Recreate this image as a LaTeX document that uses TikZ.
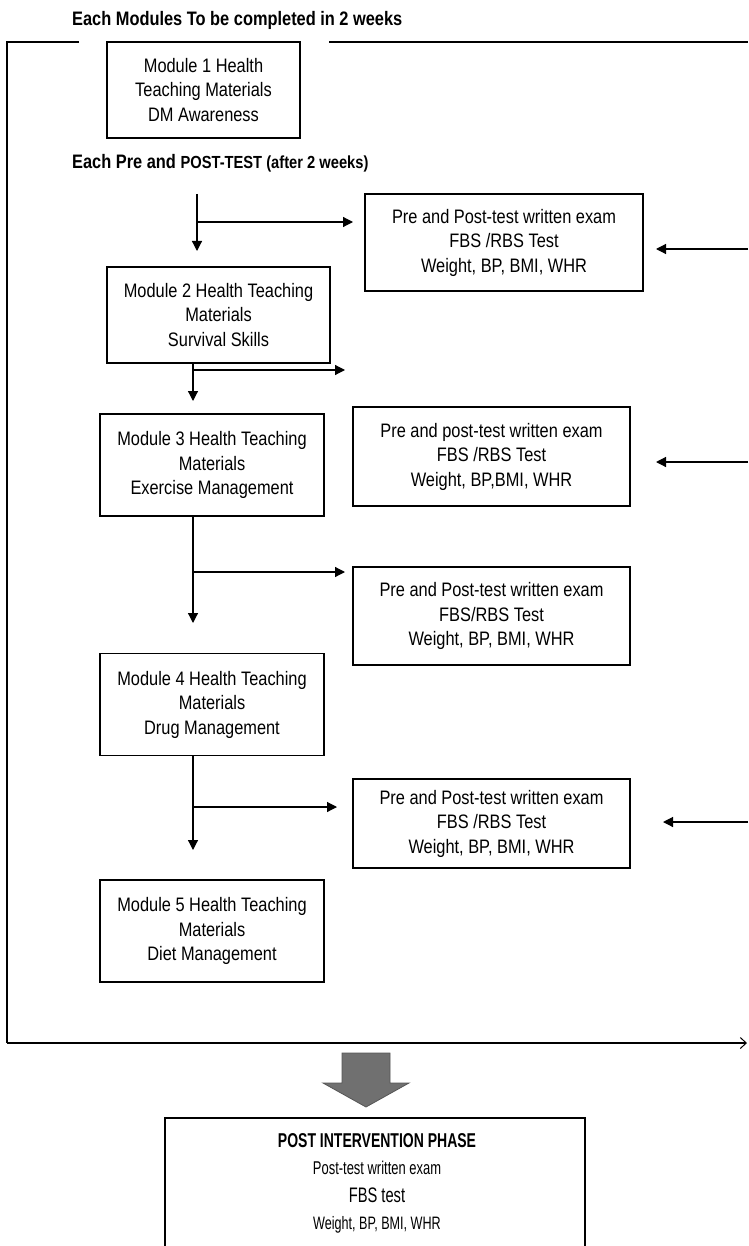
\documentclass[tikz,border=0pt]{standalone}
\usepackage{fontspec}
\setmainfont[FakeStretch=0.84]{Liberation Sans}
\newfontfamily\postfont[FakeStretch=0.70]{Liberation Sans}
\usetikzlibrary{arrows.meta}
\begin{document}
\begin{tikzpicture}[x=1pt,y=-1pt]
\tikzset{
  ln/.style={line width=1.2pt},
  arr/.style={line width=1.2pt,-{Triangle[length=10pt,width=10pt]}},
  box/.style={draw,line width=1.2pt,inner sep=0pt,align=center,font=\fontsize{19.5}{24.5}\selectfont},
  modbox/.style={box,minimum width=224pt,minimum height=102pt},
  testbox/.style={box,minimum width=277pt,minimum height=98pt},
  hdr/.style={inner sep=0pt,anchor=base west,font=\fontsize{19.5}{24}\selectfont\bfseries},
  ptxt/.style={inner sep=0pt,anchor=base}
}
\useasboundingbox (0,0) rectangle (748,1246);
\clip (0,0) rectangle (748,1246);

% headings
\node[hdr] (title) at (72,26) {Each Modules To be completed in 2 weeks};
\node[hdr] (sub) at (72,169) {Each Pre and {\fontsize{17.5}{24}\selectfont POST-TEST (after 2 weeks)}};

% module boxes
\node[box,minimum width=193pt,minimum height=96pt] (m1) at (203.5,90) {Module 1 Health\\Teaching Materials\\DM Awareness};
\node[box,minimum width=223pt,minimum height=96pt] (m2) at (218.5,315) {Module 2 Health Teaching\\Materials\\Survival Skills};
\node[modbox] (m3) at (212,465) {Module 3 Health Teaching\\Materials\\Exercise Management};
\node[modbox] (m4) at (212,704.5) {Module 4 Health Teaching\\Materials\\Drug Management};
\node[modbox] (m5) at (212,931) {Module 5 Health Teaching\\Materials\\Diet Management};

% test boxes
\node[testbox,minimum width=278pt,minimum height=97pt] (t1) at (504,242.5) {Pre and Post-test written exam\\FBS /RBS Test\\Weight, BP, BMI, WHR};
\node[testbox,minimum height=99pt] (t2) at (491.5,456.5) {Pre and post-test written exam\\FBS /RBS Test\\Weight, BP,BMI, WHR};
\node[testbox] (t3) at (491.5,616) {Pre and Post-test written exam\\FBS/RBS Test\\Weight, BP, BMI, WHR};
\node[testbox,minimum height=89pt] (t4) at (491.5,823.5) {Pre and Post-test written exam\\FBS /RBS Test\\Weight, BP, BMI, WHR};

% frame
\coordinate (fa) at (79,42);
\coordinate (fb) at (7,42);
\coordinate (fc) at (7,1043);
\coordinate (fd) at (747,1043);
\coordinate (fe) at (329,42);
\coordinate (ff) at (748,42);
\draw[ln] (fa) -- (fb) -- (fc);
\draw[ln,-{Straight Barb[length=6pt,width=11pt,line width=1pt]}] (fc) -- (fd);
\draw[ln] (fe) -- (ff);

% flow arrows
\coordinate (s1) at (197,194);
\coordinate (b1) at (197,222);
\coordinate (e1) at (353,222);
\coordinate (d1) at (197,251);
\draw[arr] (s1) -- (d1);
\draw[arr] (b1) -- (e1);

\coordinate (s2) at (m2.south -| 193,0);
\coordinate (b2) at (193,370);
\coordinate (e2) at (345,370);
\coordinate (d2) at (193,401);
\draw[arr] (s2) -- (d2);
\draw[arr] (b2) -- (e2);

\coordinate (s3) at (m3.south -| 193,0);
\coordinate (b3) at (193,572);
\coordinate (e3) at (345,572);
\coordinate (d3) at (193,623);
\draw[arr] (s3) -- (d3);
\draw[arr] (b3) -- (e3);

\coordinate (s4) at (m4.south -| 193,0);
\coordinate (b4) at (193,807);
\coordinate (e4) at (337,807);
\coordinate (d4) at (193,850);
\draw[arr] (s4) -- (d4);
\draw[arr] (b4) -- (e4);

% incoming arrows from the right
\coordinate (r1) at (748,249);
\coordinate (q1) at (656,249);
\coordinate (r2) at (748,462);
\coordinate (q2) at (656,462);
\coordinate (r3) at (748,822);
\coordinate (q3) at (663,822);
\draw[arr] (r1) -- (q1);
\draw[arr] (r2) -- (q2);
\draw[arr] (r3) -- (q3);

% big gray arrow
\draw[fill={rgb,255:red,112;green,112;blue,112},draw={rgb,255:red,85;green,85;blue,85},line width=0.8pt]
  (342,1053) -- (390,1053) -- (390,1083) -- (409,1083) -- (366,1107) -- (323,1083) -- (342,1083) -- cycle;

% post intervention box
\node[draw,line width=1.2pt,minimum width=420pt,minimum height=160pt,inner sep=0pt] (postbox) at (375,1198) {};
\node[ptxt,font=\postfont\fontsize{20}{22}\selectfont\bfseries] (p1) at (377,1147) {POST INTERVENTION PHASE};
\node[ptxt,font=\postfont\fontsize{18.5}{22}\selectfont] (p2) at (377,1174) {Post-test written exam};
\node[ptxt,font=\postfont\fontsize{21}{22}\selectfont] (p3) at (377,1202) {FBS test};
\node[ptxt,font=\postfont\fontsize{18}{22}\selectfont] (p4) at (377,1229) {Weight, BP, BMI, WHR};
\end{tikzpicture}
\end{document}
